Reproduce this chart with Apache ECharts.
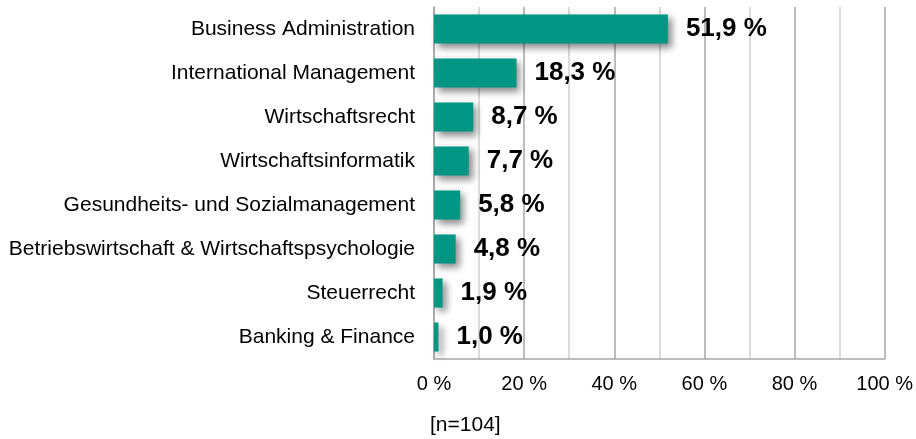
<!DOCTYPE html>
<html>
<head>
<meta charset="utf-8">
<script src="https://cdn.jsdelivr.net/npm/echarts@6/dist/echarts.min.js"></script>
<style>
  html, body { margin: 0; padding: 0; background: #fff; }
  #chart { width: 916px; height: 439px; }
</style>
</head>
<body>
<div id="chart"></div>
<script>
// Studiengänge (top to bottom) and their shares in percent
const categories = [
  'Business Administration',
  'International Management',
  'Wirtschaftsrecht',
  'Wirtschaftsinformatik',
  'Gesundheits- und Sozialmanagement',
  'Betriebswirtschaft & Wirtschaftspsychologie',
  'Steuerrecht',
  'Banking & Finance'
];
const shares = [51.9, 18.3, 8.7, 7.7, 5.8, 4.8, 1.9, 1.0];
const sampleNote = '[n=104]';

const FONT = '"Liberation Sans", Arial, sans-serif';
const fmt = v => v.toFixed(1).replace('.', ',') + ' %';

const chart = echarts.init(document.getElementById('chart'), null, { renderer: 'canvas' });
chart.setOption({
  animation: false,
  backgroundColor: '#ffffff',
  grid: { left: 434, right: 30, top: 7, bottom: 80, containLabel: false },
  xAxis: {
    type: 'value',
    min: 0,
    max: 100,
    interval: 20,
    axisLine: { show: true, lineStyle: { color: '#a6a6a6', width: 1.5 } },
    axisTick: { show: false },
    axisLabel: {
      color: '#000',
      fontFamily: FONT,
      fontSize: 20,
      margin: 15,
      formatter: v => v + ' %'
    },
    splitLine: { show: true, lineStyle: { color: '#a6a6a6', width: 1.5 } },
    minorTick: { show: false, splitNumber: 2 },
    minorSplitLine: { show: true, lineStyle: { color: '#d0d0d0', width: 1.5 } }
  },
  yAxis: {
    type: 'category',
    inverse: true,
    data: categories,
    axisLine: { show: true, lineStyle: { color: '#a6a6a6', width: 1.5 } },
    axisTick: { show: false },
    axisLabel: {
      color: '#000',
      fontFamily: FONT,
      fontSize: 21,
      margin: 19
    }
  },
  series: [{
    type: 'bar',
    data: shares,
    barCategoryGap: '34%',
    itemStyle: {
      color: '#009683',
      shadowColor: 'rgba(0,0,0,0.45)',
      shadowBlur: 7,
      shadowOffsetX: 4,
      shadowOffsetY: 4
    },
    label: {
      show: true,
      position: 'right',
      distance: 18,
      color: '#000',
      fontFamily: FONT,
      fontWeight: 'bold',
      fontSize: 26,
      formatter: p => fmt(p.value)
    }
  }],
  graphic: [{
    type: 'text',
    left: 430,
    top: 415,
    style: { text: sampleNote, fill: '#000', font: '21px ' + FONT }
  }]
});
</script>
</body>
</html>
